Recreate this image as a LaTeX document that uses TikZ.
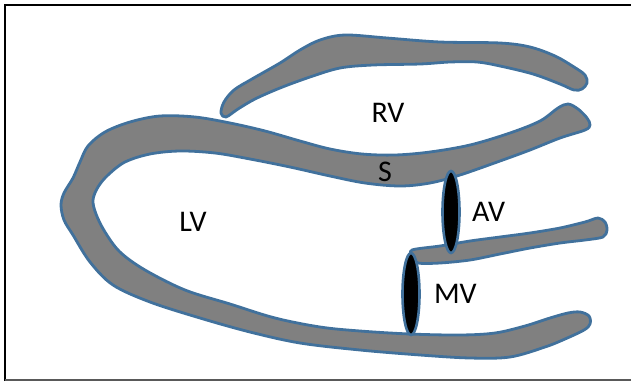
\documentclass[tikz,border=0pt]{standalone}
\usepackage{fontspec}
\setmainfont{Carlito}
\usetikzlibrary{shapes.geometric}
\usetikzlibrary{positioning}

\definecolor{wallblue}{HTML}{41719C}
\definecolor{wallgray}{HTML}{808080}

\tikzstyle{wall_band} = [
    fill=wallgray,
    draw=wallblue,
    line width=2.8pt,
    line join=round
]
\tikzstyle{valve_leaf} = [
    ellipse,
    fill=black,
    draw=wallblue,
    line width=2.6pt,
    inner sep=0pt,
    minimum width=17pt,
    minimum height=82pt
]
\tikzstyle{chamber_label} = [
    font=\fontsize{30}{32}\selectfont,
    inner sep=0pt
]

\begin{document}
\begin{tikzpicture}[x=1pt, y=-1pt]
\useasboundingbox (0,0) rectangle (631,381);

% frame
\draw[black, line width=2pt] (5,381) -- (5,5) -- (632,5);
\draw[black!65, line width=1.5pt] (5,380) -- (632,380);

% right ventricle free wall
\draw[wall_band] plot[smooth cycle, tension=0.55] coordinates {
    (221,113) (224,102) (234,90) (252,79) (280,63) (300,50) (320,40)
    (345,35) (387,38) (440,42) (500,43) (530,47) (555,56) (574,67)
    (585,75) (587,83) (582,89) (574,90) (560,84) (533,74) (500,66)
    (477,62) (450,62) (420,64) (373,65) (340,68) (310,77) (280,88)
    (255,99) (238,109) (226,117)
};

% septum, apex and posterior wall
\draw[wall_band] plot[smooth cycle, tension=0.55] coordinates {
    (568,104) (578,109) (587,118) (590,125) (585,130) (560,138)
    (530,150) (500,161) (460,175) (430,183) (400,186) (365,183)
    (330,176) (290,167) (250,159) (215,153) (180,151) (150,154)
    (125,162) (108,175) (98,187) (93,200) (96,214) (105,232)
    (120,252) (145,270) (185,290) (230,304) (275,318) (320,327)
    (360,331) (410,334) (460,335) (495,333) (525,326) (550,318)
    (568,313) (580,312) (589,316) (590,324) (584,330) (565,339)
    (545,347) (510,357) (470,358) (420,355) (360,350) (300,343)
    (250,332) (200,318) (150,302) (113,285) (90,262) (73,235)
    (64,220) (61,205) (64,193) (73,178) (80,162) (88,146)
    (105,132) (130,122) (160,116) (195,117) (230,123) (265,131)
    (300,141) (330,149) (362,154) (395,155) (430,152) (470,145)
    (510,133) (540,121) (558,108)
};

% aorto-mitral continuity
\draw[wall_band] plot[smooth cycle, tension=0.5] coordinates {
    (412,250) (440,246) (470,241) (500,237) (530,233) (560,228)
    (585,222) (598,218) (605,222) (607,230) (603,237) (585,240)
    (560,243) (530,248) (500,254) (470,260) (440,263) (418,263)
    (413,257)
};

% valves
\node[valve_leaf] (av) at (451,212) {};
\node[valve_leaf] (mv) at (411,294) {};

% chamber labels
\node[chamber_label] (rv) at (388,113) {RV};
\node[chamber_label] (lv) at (193,222) {LV};
\node[chamber_label] (s) at (385,172) {S};
\node[chamber_label, right=11pt of av] (avl) {AV};
\node[chamber_label, right=13pt of mv] (mvl) {MV};
\end{tikzpicture}
\end{document}
